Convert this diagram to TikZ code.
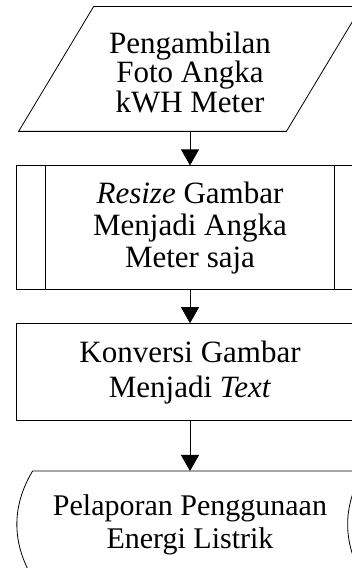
\documentclass[tikz,border=0pt]{standalone}
\usepackage{fontspec}
\setmainfont{Liberation Serif}
\usetikzlibrary{positioning,arrows.meta}

\begin{document}
\begin{tikzpicture}[x=1pt, y=1pt, node distance=34pt, line width=0.8pt,
    font=\fontsize{31}{29.5}\selectfont,
    masukan/.style={rectangle, minimum width=342pt, minimum height=118pt, align=center, inner sep=0pt},
    subproses/.style={draw, rectangle, minimum width=348pt, minimum height=124pt, align=center,
      font=\fontsize{31}{32}\selectfont},
    proses/.style={draw, rectangle, minimum width=348pt, minimum height=97pt, align=center,
      font=\fontsize{31}{35}\selectfont},
    simpan/.style={rectangle, minimum width=346pt, minimum height=106pt, align=center,
      font=\fontsize{30}{33}\selectfont},
    panah/.style={-{Triangle[length=16pt,width=18pt]}}]
      \useasboundingbox (0,0) rectangle (352,568);
      \clip (0,0) rectangle (352,568);
      % data masukan (jajar genjang)
      \node[masukan] (foto) at (190,496) {Pengambilan\\Foto Angka\\kWH Meter};
      \draw ([xshift=75pt,yshift=6pt]foto.north west) -- ([yshift=6pt]foto.north east)
        -- ([xshift=-75pt]foto.south east) -- (foto.south west) -- cycle;
      % proses terdefinisi
      \node[subproses, below=of foto] (resize) {\textit{Resize} Gambar\\Menjadi Angka\\Meter saja};
      \draw ([xshift=30pt]resize.north west) -- ([xshift=30pt]resize.south west);
      \draw ([xshift=-30pt]resize.north east) -- ([xshift=-30pt]resize.south east);
      \node[proses, below=33pt of resize] (konversi) {Konversi Gambar\\Menjadi \textit{Text}};
      % data tersimpan
      \node[simpan, below=50pt of konversi] (lapor) {Pelaporan Penggunaan\\Energi Listrik};
      \draw ([xshift=16pt]lapor.north west) .. controls +(-21,-35) and +(-21,35) .. ([xshift=16pt]lapor.south west)
        -- (lapor.south east) .. controls +(-21,35) and +(-21,-35) .. (lapor.north east) -- cycle;
      \draw[panah] (foto) -- (resize);
      \draw[panah] (resize) -- (konversi);
      \draw[panah] (konversi) -- (lapor);
    \end{tikzpicture}
\end{document}
